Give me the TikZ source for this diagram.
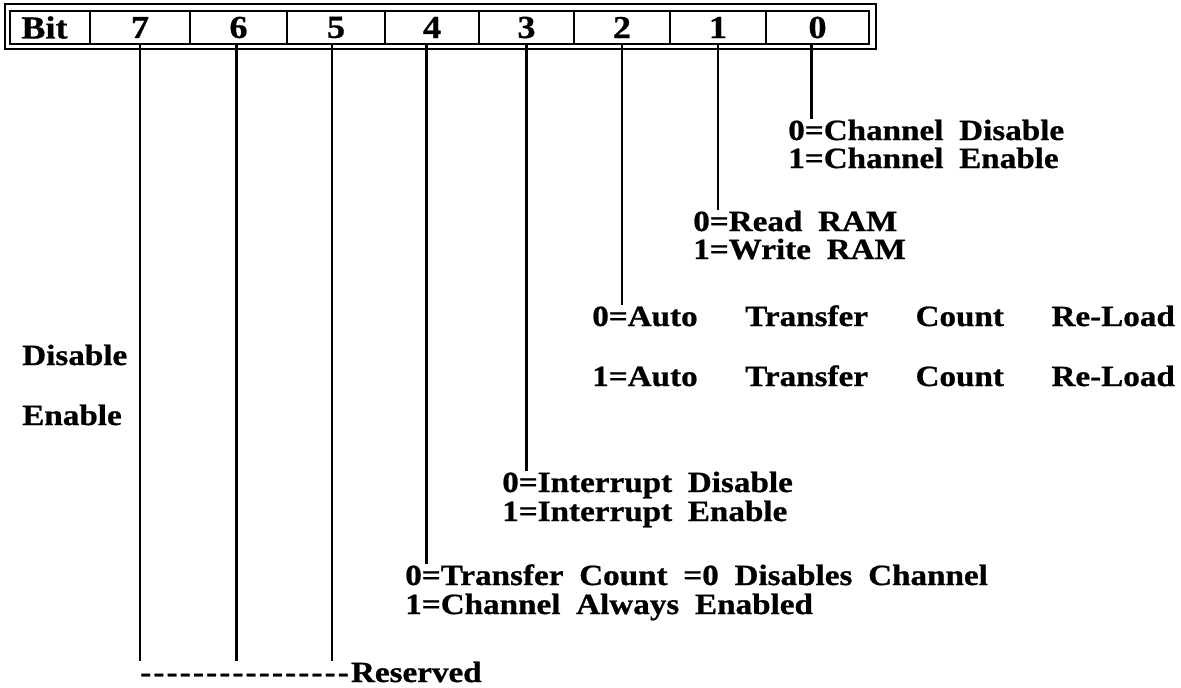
\documentclass[tikz,border=0pt]{standalone}
\usepackage{fontspec}
\setmainfont{Liberation Serif}[FakeStretch=1.13, WordSpace=1.9, FakeBold=0.8]
% run of single hyphens, kept apart so they never merge into dashes
\newcommand\hyphenrun{-\kern1.6pt-\kern1.6pt-\kern1.6pt-\kern1.6pt-\kern1.6pt-\kern1.6pt-\kern1.6pt-\kern1.6pt-\kern1.6pt-\kern1.6pt-\kern1.6pt-\kern1.6pt-\kern1.6pt-\kern1.6pt-\kern1.6pt-\kern1.6pt}
\begin{document}
\begin{tikzpicture}[x=0.75pt,y=-0.75pt,
  reg/.style={draw, line width=1.6pt, inner sep=0pt, minimum height=24.75pt,
              font=\fontsize{24}{24}\selectfont\bfseries},
  lbl/.style={anchor=base west, inner sep=0pt,
              font=\fontsize{22}{22}\selectfont\bfseries},
  wire/.style={line width=2.2pt}]
\useasboundingbox (0,0) rectangle (1181,687);

% register outline (outer frame of the double border)
\draw[line width=1.6pt] (5,4) rectangle (876,49);

% register cells
\node[reg, minimum width=60pt, text width=60pt, align=left] (cb) at (50,27.5) {\hspace*{8.5pt}Bit};
\node[reg, minimum width=75pt]    (c7) at (140,27.5)   {7};
\node[reg, minimum width=72.75pt] (c6) at (238.5,27.5) {6};
\node[reg, minimum width=73.5pt]  (c5) at (336,27.5)   {5};
\node[reg, minimum width=70.5pt]  (c4) at (432,27.5)   {4};
\node[reg, minimum width=71.25pt] (c3) at (526.5,27.5) {3};
\node[reg, minimum width=72pt]    (c2) at (622,27.5)   {2};
\node[reg, minimum width=72pt]    (c1) at (718,27.5)   {1};
\node[reg, minimum width=77.25pt] (c0) at (817.5,27.5) {0};

% field descriptions
\node[lbl] (b0a) at (788,140) {0=Channel Disable};
\node[lbl] (b0b) at (788,168) {1=Channel Enable};
\node[lbl] (b1a) at (693,231) {0=Read RAM};
\node[lbl] (b1b) at (693,259) {1=Write RAM};
\node[lbl] (b2a) at (592,326) {\makebox[437pt][s]{0=Auto Transfer Count Re-Load}};
\node[lbl] (b2b) at (592,386) {\makebox[437pt][s]{1=Auto Transfer Count Re-Load}};
\node[lbl] (b3a) at (502,492) {0=Interrupt Disable};
\node[lbl] (b3b) at (502,521) {1=Interrupt Enable};
\node[lbl] (b4a) at (405,585) {0=Transfer Count =0 Disables Channel};
\node[lbl] (b4b) at (405,614) {1=Channel Always Enabled};
\node[lbl] (dis) at (22,365) {Disable};
\node[lbl] (ena) at (22,425) {Enable};
\node[lbl] (res) at (140,682) {\hyphenrun Reserved};

% leader lines from the bit cells
\draw[wire] ([xshift=-4.5]c0.south) -- ([xshift=-4.5]c0.south |- b0a.north);
\draw[wire] (c1.south) -- (c1.south |- b1a.north);
\draw[wire] (c2.south) -- (c2.south |- b2a.north);
\draw[wire] (c3.south) -- (c3.south |- b3a.north);
\draw[wire] ([xshift=-4]c4.south) -- ([xshift=-4]c4.south |- b4a.north);
\draw[wire] ([xshift=-3]c5.south) -- ([xshift=-3]c5.south |- res.north);
\draw[wire] ([xshift=-1.5]c6.south) -- ([xshift=-1.5]c6.south |- res.north);
\draw[wire] (c7.south) -- (c7.south |- res.north);
\end{tikzpicture}
\end{document}
